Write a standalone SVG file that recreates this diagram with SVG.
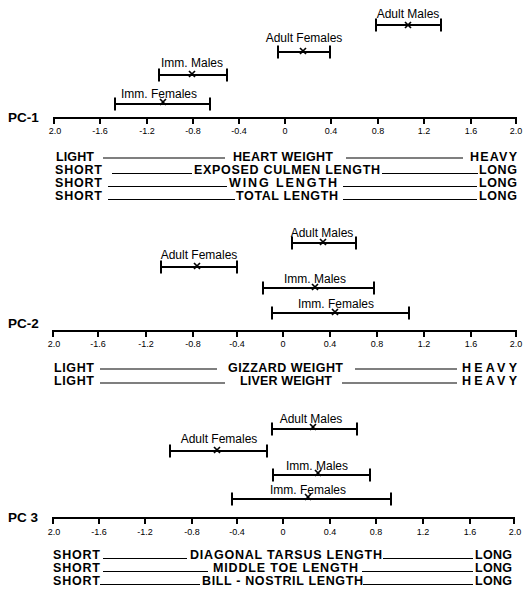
<svg xmlns="http://www.w3.org/2000/svg" xmlns:xlink="http://www.w3.org/1999/xlink" width="523" height="589" viewBox="0 0 523 589">
<style>
  .bg { fill: #ffffff; }
  .axis { stroke: #000; stroke-width: 2; fill: none; }
  .tick { stroke: #000; stroke-width: 2; }
  .tl { font-family: "Liberation Sans", Arial, sans-serif; font-size: 9px; fill: #000; text-anchor: middle; }
  .pc { font-family: "Liberation Sans", Arial, sans-serif; font-size: 13.5px; font-weight: bold; fill: #000; }
  .bar { stroke: #000; stroke-width: 2; fill: none; }
  .xm { stroke: #000; stroke-width: 1.7; fill: none; }
  .lab { font-family: "Liberation Sans", Arial, sans-serif; font-size: 12px; fill: #000; text-anchor: middle; }
  .row { font-family: "Liberation Sans", Arial, sans-serif; font-size: 12.5px; font-weight: bold; fill: #000; }
  .rl { stroke: #000; stroke-width: 1.2; }
</style>
<defs>
  <path id="xmark" class="xm" d="M-3,-3 L3,3 M-3,3 L3,-3"/>
</defs>
<rect class="bg" x="0" y="0" width="523" height="589"/>

<!-- ================= PC-1 ================= -->
<g id="pc1-axis">
  <text class="pc" x="8" y="122">PC-1</text>
  <line class="axis" x1="53" y1="118" x2="517" y2="118"/>
  <g class="ticks">
    <line class="tick" x1="54" y1="117" x2="54" y2="124"/>
    <line class="tick" x1="100" y1="117" x2="100" y2="124"/>
    <line class="tick" x1="147" y1="117" x2="147" y2="124"/>
    <line class="tick" x1="193" y1="117" x2="193" y2="124"/>
    <line class="tick" x1="239" y1="117" x2="239" y2="124"/>
    <line class="tick" x1="285" y1="117" x2="285" y2="124"/>
    <line class="tick" x1="331" y1="117" x2="331" y2="124"/>
    <line class="tick" x1="378" y1="117" x2="378" y2="124"/>
    <line class="tick" x1="424" y1="117" x2="424" y2="124"/>
    <line class="tick" x1="471" y1="117" x2="471" y2="124"/>
    <line class="tick" x1="516" y1="117" x2="516" y2="124"/>
  </g>
  <text class="tl" x="55" y="134">2.0</text>
  <text class="tl" x="100" y="134">-1.6</text>
  <text class="tl" x="147" y="134">-1.2</text>
  <text class="tl" x="193" y="134">-0.8</text>
  <text class="tl" x="239" y="134">-0.4</text>
  <text class="tl" x="285" y="134">0</text>
  <text class="tl" x="331" y="134">0.4</text>
  <text class="tl" x="378" y="134">0.8</text>
  <text class="tl" x="424" y="134">1.2</text>
  <text class="tl" x="471" y="134">1.6</text>
  <text class="tl" x="516" y="134">2.0</text>
</g>

<g id="pc1-adult-males">
  <text class="lab" x="408" y="18">Adult Males</text>
  <path class="bar" d="M376,25 H441 M376,18.5 V31.5 M441,18.5 V31.5"/>
  <use xlink:href="#xmark" x="408" y="25"/>
</g>
<g id="pc1-adult-females">
  <text class="lab" x="304" y="42">Adult Females</text>
  <path class="bar" d="M278,52 H330 M278,45.5 V58.5 M330,45.5 V58.5"/>
  <use xlink:href="#xmark" x="303" y="51"/>
</g>
<g id="pc1-imm-males">
  <text class="lab" x="192" y="67">Imm. Males</text>
  <path class="bar" d="M159,75 H227 M159,68.5 V81.5 M227,68.5 V81.5"/>
  <use xlink:href="#xmark" x="192" y="74"/>
</g>
<g id="pc1-imm-females">
  <text class="lab" x="159" y="98">Imm. Females</text>
  <path class="bar" d="M115,104 H210 M115,97.5 V110.5 M210,97.5 V110.5"/>
  <use xlink:href="#xmark" x="163" y="102"/>
</g>

<g id="pc1-rows">
  <text class="row" x="56" y="161" textLength="38" lengthAdjust="spacing">LIGHT</text>
  <line class="rl" x1="103" y1="158" x2="225" y2="158"/>
  <text class="row" x="233" y="161" textLength="100" lengthAdjust="spacing">HEART WEIGHT</text>
  <line class="rl" x1="346" y1="158" x2="463" y2="158"/>
  <text class="row" x="470" y="161" textLength="47" lengthAdjust="spacing">HEAVY</text>

  <text class="row" x="55" y="174" textLength="47" lengthAdjust="spacing">SHORT</text>
  <line class="rl" x1="112" y1="173.5" x2="192" y2="173.5"/>
  <text class="row" x="194" y="174" textLength="186" lengthAdjust="spacing">EXPOSED CULMEN LENGTH</text>
  <line class="rl" x1="382" y1="173.5" x2="478" y2="173.5"/>
  <text class="row" x="479" y="174" textLength="38" lengthAdjust="spacing">LONG</text>

  <text class="row" x="55" y="187" textLength="47" lengthAdjust="spacing">SHORT</text>
  <line class="rl" x1="108" y1="186.5" x2="227" y2="186.5"/>
  <text class="row" x="229" y="187" textLength="108" lengthAdjust="spacing">WING LENGTH</text>
  <line class="rl" x1="343" y1="186.5" x2="477" y2="186.5"/>
  <text class="row" x="479" y="187" textLength="38" lengthAdjust="spacing">LONG</text>

  <text class="row" x="55" y="200" textLength="47" lengthAdjust="spacing">SHORT</text>
  <line class="rl" x1="108" y1="199.5" x2="235" y2="199.5"/>
  <text class="row" x="236" y="200" textLength="102" lengthAdjust="spacing">TOTAL LENGTH</text>
  <line class="rl" x1="343" y1="199.5" x2="477" y2="199.5"/>
  <text class="row" x="479" y="200" textLength="38" lengthAdjust="spacing">LONG</text>
</g>

<!-- ================= PC-2 ================= -->
<g id="pc2-axis">
  <text class="pc" x="8" y="328">PC-2</text>
  <line class="axis" x1="52" y1="331" x2="517" y2="331"/>
  <g class="ticks">
    <line class="tick" x1="53" y1="330" x2="53" y2="337"/>
    <line class="tick" x1="98" y1="330" x2="98" y2="337"/>
    <line class="tick" x1="146" y1="330" x2="146" y2="337"/>
    <line class="tick" x1="193" y1="330" x2="193" y2="337"/>
    <line class="tick" x1="237" y1="330" x2="237" y2="337"/>
    <line class="tick" x1="283" y1="330" x2="283" y2="337"/>
    <line class="tick" x1="330" y1="330" x2="330" y2="337"/>
    <line class="tick" x1="377" y1="330" x2="377" y2="337"/>
    <line class="tick" x1="424" y1="330" x2="424" y2="337"/>
    <line class="tick" x1="471" y1="330" x2="471" y2="337"/>
    <line class="tick" x1="516" y1="330" x2="516" y2="337"/>
  </g>
  <text class="tl" x="54" y="347">2.0</text>
  <text class="tl" x="98" y="347">-1.6</text>
  <text class="tl" x="146" y="347">-1.2</text>
  <text class="tl" x="193" y="347">-0.8</text>
  <text class="tl" x="237" y="347">-0.4</text>
  <text class="tl" x="283" y="347">0</text>
  <text class="tl" x="330" y="347">0.4</text>
  <text class="tl" x="377" y="347">0.8</text>
  <text class="tl" x="424" y="347">1.2</text>
  <text class="tl" x="471" y="347">1.6</text>
  <text class="tl" x="516" y="347">2.0</text>
</g>

<g id="pc2-adult-males">
  <text class="lab" x="322" y="237">Adult Males</text>
  <path class="bar" d="M292,243 H356 M292,236.5 V249.5 M356,236.5 V249.5"/>
  <use xlink:href="#xmark" x="323" y="242"/>
</g>
<g id="pc2-adult-females">
  <text class="lab" x="199" y="259">Adult Females</text>
  <path class="bar" d="M161,267 H237 M161,260.5 V273.5 M237,260.5 V273.5"/>
  <use xlink:href="#xmark" x="197" y="266"/>
</g>
<g id="pc2-imm-males">
  <text class="lab" x="315" y="283">Imm. Males</text>
  <path class="bar" d="M263,288 H374 M263,281.5 V294.5 M374,281.5 V294.5"/>
  <use xlink:href="#xmark" x="315" y="287"/>
</g>
<g id="pc2-imm-females">
  <text class="lab" x="336" y="308">Imm. Females</text>
  <path class="bar" d="M272,313 H409 M272,306.5 V319.5 M409,306.5 V319.5"/>
  <use xlink:href="#xmark" x="335" y="312"/>
</g>

<g id="pc2-rows">
  <text class="row" x="54" y="372" textLength="40" lengthAdjust="spacing">LIGHT</text>
  <line class="rl" x1="100" y1="369" x2="217" y2="369"/>
  <text class="row" x="228" y="372" textLength="115" lengthAdjust="spacing">GIZZARD WEIGHT</text>
  <line class="rl" x1="355" y1="369" x2="457" y2="369"/>
  <text class="row" x="462" y="372" textLength="55" lengthAdjust="spacing">HEAVY</text>

  <text class="row" x="54" y="385" textLength="40" lengthAdjust="spacing">LIGHT</text>
  <line class="rl" x1="100" y1="383" x2="225" y2="383"/>
  <text class="row" x="240" y="385" textLength="92" lengthAdjust="spacing">LIVER WEIGHT</text>
  <line class="rl" x1="342" y1="383" x2="457" y2="383"/>
  <text class="row" x="462" y="385" textLength="55" lengthAdjust="spacing">HEAVY</text>
</g>

<!-- ================= PC 3 ================= -->
<g id="pc3-axis">
  <text class="pc" x="8" y="522">PC 3</text>
  <line class="axis" x1="52" y1="518" x2="515" y2="518"/>
  <g class="ticks">
    <line class="tick" x1="53" y1="517" x2="53" y2="524"/>
    <line class="tick" x1="99" y1="517" x2="99" y2="524"/>
    <line class="tick" x1="145" y1="517" x2="145" y2="524"/>
    <line class="tick" x1="192" y1="517" x2="192" y2="524"/>
    <line class="tick" x1="237" y1="517" x2="237" y2="524"/>
    <line class="tick" x1="283" y1="517" x2="283" y2="524"/>
    <line class="tick" x1="330" y1="517" x2="330" y2="524"/>
    <line class="tick" x1="376" y1="517" x2="376" y2="524"/>
    <line class="tick" x1="423" y1="517" x2="423" y2="524"/>
    <line class="tick" x1="470" y1="517" x2="470" y2="524"/>
    <line class="tick" x1="514" y1="517" x2="514" y2="524"/>
  </g>
  <text class="tl" x="54" y="535">2.0</text>
  <text class="tl" x="99" y="535">-1.6</text>
  <text class="tl" x="145" y="535">-1.2</text>
  <text class="tl" x="192" y="535">-0.8</text>
  <text class="tl" x="237" y="535">-0.4</text>
  <text class="tl" x="283" y="535">0</text>
  <text class="tl" x="330" y="535">0.4</text>
  <text class="tl" x="376" y="535">0.8</text>
  <text class="tl" x="423" y="535">1.2</text>
  <text class="tl" x="470" y="535">1.6</text>
  <text class="tl" x="515" y="535">2.0</text>
</g>

<g id="pc3-adult-males">
  <text class="lab" x="311" y="423">Adult Males</text>
  <path class="bar" d="M272,429 H357 M272,422.5 V435.5 M357,422.5 V435.5"/>
  <use xlink:href="#xmark" x="313" y="427"/>
</g>
<g id="pc3-adult-females">
  <text class="lab" x="219" y="443">Adult Females</text>
  <path class="bar" d="M170,451 H267 M170,444.5 V457.5 M267,444.5 V457.5"/>
  <use xlink:href="#xmark" x="217" y="450"/>
</g>
<g id="pc3-imm-males">
  <text class="lab" x="317" y="470">Imm. Males</text>
  <path class="bar" d="M273,475 H370 M273,468.5 V481.5 M370,468.5 V481.5"/>
  <use xlink:href="#xmark" x="318" y="473"/>
</g>
<g id="pc3-imm-females">
  <text class="lab" x="308" y="494">Imm. Females</text>
  <path class="bar" d="M232,499 H391 M232,492.5 V505.5 M391,492.5 V505.5"/>
  <use xlink:href="#xmark" x="308" y="497"/>
</g>

<g id="pc3-rows">
  <text class="row" x="53" y="559" textLength="47" lengthAdjust="spacing">SHORT</text>
  <line class="rl" x1="103" y1="558.5" x2="187" y2="558.5"/>
  <text class="row" x="190" y="559" textLength="192" lengthAdjust="spacing">DIAGONAL TARSUS LENGTH</text>
  <line class="rl" x1="383" y1="558.5" x2="473" y2="558.5"/>
  <text class="row" x="475" y="559" textLength="37" lengthAdjust="spacing">LONG</text>

  <text class="row" x="53" y="572" textLength="47" lengthAdjust="spacing">SHORT</text>
  <line class="rl" x1="103" y1="571.5" x2="208" y2="571.5"/>
  <text class="row" x="213" y="572" textLength="145" lengthAdjust="spacing">MIDDLE TOE LENGTH</text>
  <line class="rl" x1="362" y1="571.5" x2="473" y2="571.5"/>
  <text class="row" x="475" y="572" textLength="37" lengthAdjust="spacing">LONG</text>

  <text class="row" x="53" y="585" textLength="47" lengthAdjust="spacing">SHORT</text>
  <line class="rl" x1="100" y1="584.5" x2="200" y2="584.5"/>
  <text class="row" x="202" y="585" textLength="161" lengthAdjust="spacing">BILL - NOSTRIL LENGTH</text>
  <line class="rl" x1="363" y1="584.5" x2="473" y2="584.5"/>
  <text class="row" x="475" y="585" textLength="37" lengthAdjust="spacing">LONG</text>
</g>
</svg>
